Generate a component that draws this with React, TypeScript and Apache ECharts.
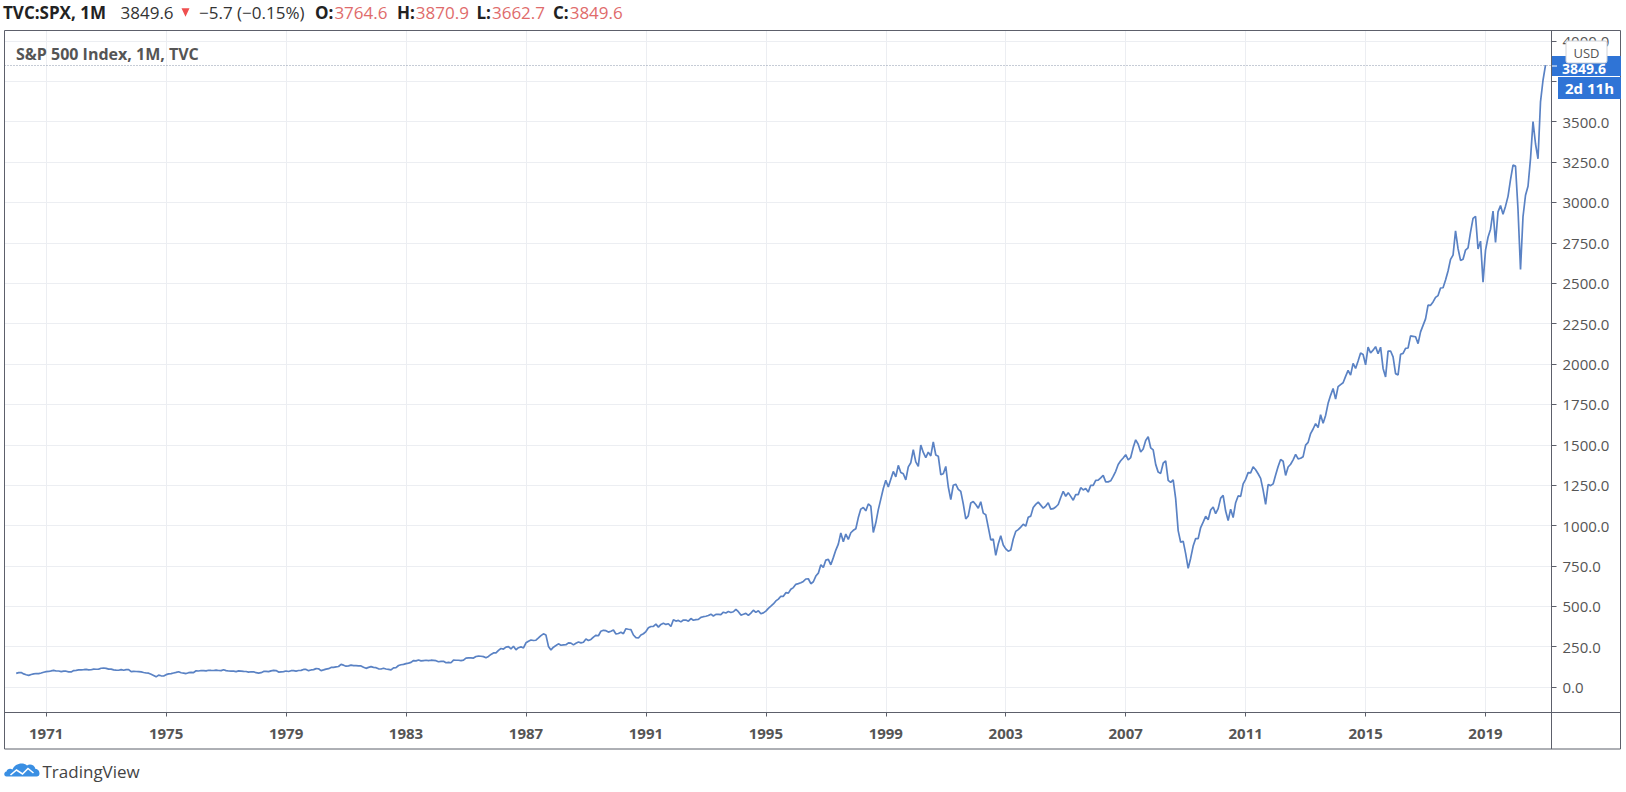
import React, { useEffect, useRef } from "react";
import * as echarts from "echarts";

// ---- DATA ----
const START_YEAR = 1970; // first monthly close: Jan 1970
const monthlyClose: number[] = [
  // 1970
  85.02, 89.5, 89.63, 81.52, 76.55, 72.72, 78.05, 81.52, 84.21, 83.25, 87.2, 92.15,
  // 1971
  95.88, 96.75, 100.31, 103.95, 99.63, 99.7, 95.58, 99.03, 98.34, 94.23, 93.99, 102.09,
  // 1972
  103.94, 106.57, 107.2, 107.67, 109.53, 107.14, 107.39, 111.09, 110.55, 111.58, 116.67, 118.05,
  // 1973
  116.03, 111.68, 111.52, 106.97, 104.95, 104.26, 108.22, 104.25, 108.43, 108.29, 95.96, 97.55,
  // 1974
  96.57, 96.22, 93.98, 90.31, 87.28, 86.0, 79.31, 72.15, 63.54, 73.9, 69.97, 68.56,
  // 1975
  76.98, 81.59, 83.36, 87.3, 91.15, 95.19, 88.75, 86.88, 83.87, 89.04, 91.24, 90.19,
  // 1976
  100.86, 99.71, 102.77, 101.64, 100.18, 104.28, 103.44, 102.91, 105.24, 102.9, 102.1, 107.46,
  // 1977
  102.03, 99.82, 98.42, 98.44, 96.12, 100.48, 98.85, 96.77, 96.53, 92.34, 94.83, 95.1,
  // 1978
  89.25, 87.04, 89.21, 96.83, 97.24, 95.53, 100.68, 103.29, 102.54, 93.15, 94.7, 96.11,
  // 1979
  99.93, 96.28, 101.59, 101.76, 99.08, 102.91, 103.81, 109.32, 109.32, 101.82, 106.16, 107.94,
  // 1980
  114.16, 113.66, 102.09, 106.29, 111.24, 114.24, 121.67, 122.38, 125.46, 127.47, 140.52, 135.76,
  // 1981
  129.55, 131.27, 136.0, 132.81, 132.59, 131.21, 130.92, 122.79, 116.18, 121.89, 126.35, 122.55,
  // 1982
  120.4, 113.11, 111.96, 116.44, 111.88, 109.61, 107.09, 119.51, 120.42, 133.71, 138.54, 140.64,
  // 1983
  145.3, 148.06, 152.96, 164.42, 162.39, 168.11, 162.56, 164.4, 166.07, 163.55, 166.4, 164.93,
  // 1984
  163.41, 157.06, 159.18, 160.05, 150.55, 153.18, 150.66, 166.68, 166.1, 166.09, 163.58, 167.24,
  // 1985
  179.63, 181.18, 180.66, 179.83, 189.55, 191.85, 190.92, 188.63, 182.08, 189.82, 202.17, 211.28,
  // 1986
  211.78, 226.92, 238.9, 235.52, 247.35, 250.84, 236.12, 252.93, 231.32, 243.98, 249.22, 242.17,
  // 1987
  274.08, 284.2, 291.7, 288.36, 290.1, 304.0, 318.66, 329.8, 321.83, 251.79, 230.3, 247.08,
  // 1988
  257.07, 267.82, 258.89, 261.33, 262.16, 273.5, 272.02, 261.52, 271.91, 278.97, 273.7, 277.72,
  // 1989
  297.47, 288.86, 294.87, 309.64, 320.52, 317.98, 346.08, 351.45, 349.15, 340.36, 345.99, 353.4,
  // 1990
  329.08, 331.89, 339.94, 330.8, 361.23, 358.02, 356.15, 322.56, 306.05, 304.0, 322.22, 330.22,
  // 1991
  343.93, 367.07, 375.22, 375.35, 389.83, 371.16, 387.81, 395.43, 387.86, 392.46, 375.22, 417.09,
  // 1992
  408.79, 412.7, 403.69, 414.95, 415.35, 408.14, 424.21, 414.03, 417.8, 418.68, 431.35, 435.71,
  // 1993
  438.78, 443.38, 451.67, 440.19, 450.19, 450.53, 448.13, 463.56, 458.93, 467.83, 461.79, 466.45,
  // 1994
  481.61, 467.14, 445.77, 450.91, 456.5, 444.27, 458.26, 475.49, 462.69, 472.35, 453.69, 459.27,
  // 1995
  470.42, 487.39, 500.71, 514.71, 533.4, 544.75, 562.06, 561.88, 584.41, 581.5, 605.37, 615.93,
  // 1996
  636.02, 640.43, 645.5, 654.17, 669.12, 670.63, 639.95, 651.99, 687.31, 705.27, 757.02, 740.74,
  // 1997
  786.16, 790.82, 757.12, 801.34, 848.28, 885.14, 954.29, 899.47, 947.28, 914.62, 955.4, 970.43,
  // 1998
  980.28, 1049.34, 1101.75, 1111.75, 1090.82, 1133.84, 1120.67, 957.28, 1017.01, 1098.67, 1163.63, 1229.23,
  // 1999
  1279.64, 1238.33, 1286.37, 1335.18, 1301.84, 1372.71, 1328.72, 1320.41, 1282.71, 1362.93, 1388.91, 1469.25,
  // 2000
  1394.46, 1366.42, 1498.58, 1452.43, 1420.6, 1454.6, 1430.83, 1517.68, 1436.51, 1429.4, 1314.95, 1320.28,
  // 2001
  1366.01, 1239.94, 1160.33, 1249.46, 1255.82, 1224.42, 1211.23, 1133.58, 1040.94, 1059.78, 1139.45, 1148.08,
  // 2002
  1130.2, 1106.73, 1147.39, 1076.92, 1067.14, 989.82, 911.62, 916.07, 815.28, 885.76, 936.31, 879.82,
  // 2003
  855.7, 841.15, 848.18, 916.92, 963.59, 974.5, 990.31, 1008.01, 995.97, 1050.71, 1058.2, 1111.92,
  // 2004
  1131.13, 1144.94, 1126.21, 1107.3, 1120.68, 1140.84, 1101.72, 1104.24, 1114.58, 1130.2, 1173.82, 1211.92,
  // 2005
  1181.27, 1203.6, 1180.59, 1156.85, 1191.5, 1191.33, 1234.18, 1220.33, 1228.81, 1207.01, 1249.48, 1248.29,
  // 2006
  1280.08, 1280.66, 1294.83, 1310.61, 1270.09, 1270.2, 1276.66, 1303.82, 1335.85, 1377.94, 1400.63, 1418.3,
  // 2007
  1438.24, 1406.82, 1420.86, 1482.37, 1530.62, 1503.35, 1455.27, 1473.99, 1526.75, 1549.38, 1481.14, 1468.36,
  // 2008
  1378.55, 1330.63, 1322.7, 1385.59, 1400.38, 1280.0, 1267.38, 1282.83, 1166.36, 968.75, 896.24, 903.25,
  // 2009
  825.88, 735.09, 797.87, 872.81, 919.14, 919.32, 987.48, 1020.62, 1057.08, 1036.19, 1095.63, 1115.1,
  // 2010
  1073.87, 1104.49, 1169.43, 1186.69, 1089.41, 1030.71, 1101.6, 1049.33, 1141.2, 1183.26, 1180.55, 1257.64,
  // 2011
  1286.12, 1327.22, 1325.83, 1363.61, 1345.2, 1320.64, 1292.28, 1218.89, 1131.42, 1253.3, 1246.96, 1257.6,
  // 2012
  1312.41, 1365.68, 1408.47, 1397.91, 1310.33, 1362.16, 1379.32, 1406.58, 1440.67, 1412.16, 1416.18, 1426.19,
  // 2013
  1498.11, 1514.68, 1569.19, 1597.57, 1630.74, 1606.28, 1685.73, 1632.97, 1681.55, 1756.54, 1805.81, 1848.36,
  // 2014
  1782.59, 1859.45, 1872.34, 1883.95, 1923.57, 1960.23, 1930.67, 2003.37, 1972.29, 2018.05, 2067.56, 2058.9,
  // 2015
  1994.99, 2104.5, 2067.89, 2085.51, 2107.39, 2063.11, 2103.84, 1972.18, 1920.03, 2079.36, 2080.41, 2043.94,
  // 2016
  1940.24, 1932.23, 2059.74, 2065.3, 2096.95, 2098.86, 2173.6, 2170.95, 2168.27, 2126.15, 2198.81, 2238.83,
  // 2017
  2278.87, 2363.64, 2362.72, 2384.2, 2411.8, 2423.41, 2470.3, 2471.65, 2519.36, 2575.26, 2647.58, 2673.61,
  // 2018
  2823.81, 2713.83, 2640.87, 2648.05, 2705.27, 2718.37, 2816.29, 2901.52, 2913.98, 2711.74, 2760.17, 2506.85,
  // 2019
  2704.1, 2784.49, 2834.4, 2945.83, 2752.06, 2941.76, 2980.38, 2926.46, 2976.74, 3037.56, 3140.98, 3230.78,
  // 2020
  3225.52, 2954.22, 2584.59, 2912.43, 3044.31, 3100.29, 3271.12, 3500.31, 3363.0, 3269.96, 3621.63, 3756.07,
  // 2021
  3849.6,
];

const yTickValues: number[] = [0, 250, 500, 750, 1000, 1250, 1500, 1750, 2000, 2250, 2500, 2750, 3000, 3250, 3500, 3750, 4000];
// 3750.0 sits under the price badge in the reference, so its label is not shown
const yLabelValues: number[] = [0, 250, 500, 750, 1000, 1250, 1500, 1750, 2000, 2250, 2500, 2750, 3000, 3250, 3500, 4000];
const xTickYears: number[] = [1971, 1975, 1979, 1983, 1987, 1991, 1995, 1999, 2003, 2007, 2011, 2015, 2019];

const lastPrice = 3849.6;
const headerSymbol = "TVC:SPX, 1M";
const headerLast = "3849.6";
const headerChange = "\u22125.7 (\u22120.15%)";
const ohlcLabels: string[] = ["O:", "H:", "L:", "C:"];
const ohlcValues: string[] = ["3764.6", "3870.9", "3662.7", "3849.6"];
const seriesTitle = "S&P 500 Index, 1M, TVC";
const countdown = "2d 11h";
const currency = "USD";
const brand = "TradingView";

const FONT = "'Open Sans', 'Noto Sans', sans-serif";

echarts.graphic.registerShape(
  "tvcloud",
  echarts.graphic.extendPath(
    "M3 15 C0 15 0 10.5 3 10 C3.5 7.5 6.5 6.5 9 8 C11 2.5 19 0 23.5 4 C26 2 31 3 32 7.5 C35 7.5 36 10 36 12 C36 14 35 15 33 15 Z",
    {}
  )
);

export default function App() {
  const ref = useRef<HTMLDivElement>(null);

  useEffect(() => {
    if (!ref.current) return;
    const chart = echarts.init(ref.current, null, { renderer: "svg" });
    const lineData = monthlyClose.map((v, i) => [START_YEAR + i / 12, v]);

    const dark = "#222";
    const red = "#e06b6b";
    const frame = "#5d606b";

    const headerTexts: any[] = [
      { x: 3, text: headerSymbol, bold: true, color: dark },
      { x: 120.5, text: headerLast, bold: false, color: "#333" },
      { x: 199, text: headerChange, bold: false, color: "#333" },
    ];
    const ohlcX = [315, 397, 476.5, 553];

    const graphics: any[] = [
      ...headerTexts.map((t) => ({
        type: "text",
        x: t.x,
        y: 12.5,
        silent: true,
        style: {
          text: t.text,
          fill: t.color,
          font: `${t.bold ? "bold " : ""}17px ${FONT}`,
          verticalAlign: "middle",
        },
      })),
      ...ohlcLabels.map((l, i) => ({
        type: "text",
        x: ohlcX[i],
        y: 12.5,
        silent: true,
        style: {
          text: `{l|${l}}{v|${ohlcValues[i]}}`,
          verticalAlign: "middle",
          rich: {
            l: { fill: dark, fontWeight: "bold", fontSize: 17, fontFamily: FONT },
            v: { fill: red, fontSize: 17, fontFamily: FONT, padding: [0, 0, 0, 1] },
          },
        },
      })),
      {
        type: "polygon",
        silent: true,
        shape: { points: [[181.5, 8.3], [189.5, 8.3], [185.5, 16.7]] },
        style: { fill: "#ef4f4f" },
      },
      // frame
      {
        type: "rect",
        silent: true,
        shape: { x: 4.5, y: 30.5, width: 1616, height: 718.5 },
        style: { fill: "none", stroke: frame, lineWidth: 1 },
        z: 10,
      },
      {
        type: "line",
        silent: true,
        shape: { x1: 1551.5, y1: 30.5, x2: 1551.5, y2: 749 },
        style: { stroke: frame, lineWidth: 1 },
        z: 10,
      },
      {
        type: "line",
        silent: true,
        shape: { x1: 4.5, y1: 712.5, x2: 1620.5, y2: 712.5 },
        style: { stroke: frame, lineWidth: 1 },
        z: 10,
      },
      // series title
      {
        type: "text",
        x: 16,
        y: 54,
        silent: true,
        style: { text: seriesTitle, fill: "#555", font: `bold 16px ${FONT}`, verticalAlign: "middle" },
        z: 10,
      },
      // price badge
      {
        type: "rect",
        silent: true,
        shape: { x: 1552, y: 56, width: 69, height: 20 },
        style: { fill: "#2f74d6" },
        z: 20,
      },
      {
        type: "text",
        x: 1562,
        y: 68.5,
        silent: true,
        style: { text: lastPrice.toFixed(1), fill: "#fff", font: `bold 14px ${FONT}`, verticalAlign: "middle" },
        z: 21,
      },
      {
        type: "line",
        silent: true,
        shape: { x1: 1552, y1: 66, x2: 1557, y2: 66 },
        style: { stroke: "#fff", lineWidth: 1 },
        z: 21,
      },
      {
        type: "rect",
        silent: true,
        shape: { x: 1558, y: 77, width: 63, height: 22 },
        style: { fill: "#2f74d6" },
        z: 20,
      },
      {
        type: "text",
        x: 1589.5,
        y: 88,
        silent: true,
        style: { text: countdown, fill: "#fff", font: `bold 15px ${FONT}`, align: "center", verticalAlign: "middle" },
        z: 21,
      },
      // USD badge
      {
        type: "rect",
        silent: true,
        shape: { x: 1566, y: 41, width: 41, height: 22, r: 2 },
        style: { fill: "#fff", stroke: "#cfd2d8", lineWidth: 1 },
        z: 22,
      },
      {
        type: "text",
        x: 1586.5,
        y: 52.5,
        silent: true,
        style: { text: currency, fill: "#555", font: `13px ${FONT}`, align: "center", verticalAlign: "middle" },
        z: 23,
      },
      // TradingView logo
      {
        type: "tvcloud",
        silent: true,
        x: 3.5,
        y: 761.5,
        scaleX: 1,
        scaleY: 1,
        style: { fill: "#3a8fe3" },
        z: 10,
      },
      {
        type: "polyline",
        silent: true,
        shape: { points: [[7, 13.5], [13, 8.5], [19, 12.5], [24.5, 7], [30, 11.5]].map(([a, b]) => [a + 3.5, b + 761.5]) },
        style: { stroke: "#fff", lineWidth: 1.6, fill: "none" },
        z: 11,
      },
      {
        type: "text",
        x: 42.5,
        y: 771,
        silent: true,
        style: { text: brand, fill: "#444", font: `17px ${FONT}`, verticalAlign: "middle" },
        z: 10,
      },
    ];

    const option: any = {
      animation: false,
      backgroundColor: "#fff",
      textStyle: { fontFamily: FONT },
      grid: { left: 4.5, right: 74.5, top: 30.5, bottom: 79.5, containLabel: false },
      xAxis: {
        type: "value",
        min: 1969.61,
        max: 2021.2,
        axisLine: { show: true, onZero: false, lineStyle: { color: frame } },
        axisTick: { show: true, customValues: xTickYears, length: 4, lineStyle: { color: frame } },
        axisLabel: {
          customValues: xTickYears,
          formatter: (v: number) => String(Math.round(v)),
          color: "#555",
          fontSize: 15,
          fontWeight: "bold",
          fontFamily: FONT,
          margin: 13,
        },
        splitLine: { show: true, lineStyle: { color: "#eceef2", width: 1 } },
      },
      yAxis: {
        type: "value",
        position: "right",
        min: -157.2,
        max: 4064,
        axisLine: { show: true, onZero: false, lineStyle: { color: frame } },
        axisTick: { show: true, customValues: yTickValues, length: 5, lineStyle: { color: frame } },
        axisLabel: {
          customValues: yLabelValues,
          formatter: (v: number) => v.toFixed(1),
          color: "#555",
          fontSize: 15,
          fontFamily: FONT,
          margin: 11,
        },
        splitLine: { show: true, lineStyle: { color: "#eceef2", width: 1 } },
      },
      series: [
        {
          type: "line",
          data: lineData,
          showSymbol: false,
          symbol: "none",
          lineStyle: { color: "#5a82c4", width: 1.7 },
          z: 5,
          markLine: {
            silent: true,
            symbol: "none",
            label: { show: false },
            lineStyle: { color: "#8d99ad", type: [1, 2], width: 1 },
            data: [{ yAxis: lastPrice }],
          },
        },
      ],
      graphic: graphics,
    };

    chart.setOption(option);
    return () => chart.dispose();
  }, []);

  return (
    <div
      ref={ref}
      style={{ position: "fixed", left: 0, top: 0, width: 1626, height: 792, background: "#fff" }}
    />
  );
}
